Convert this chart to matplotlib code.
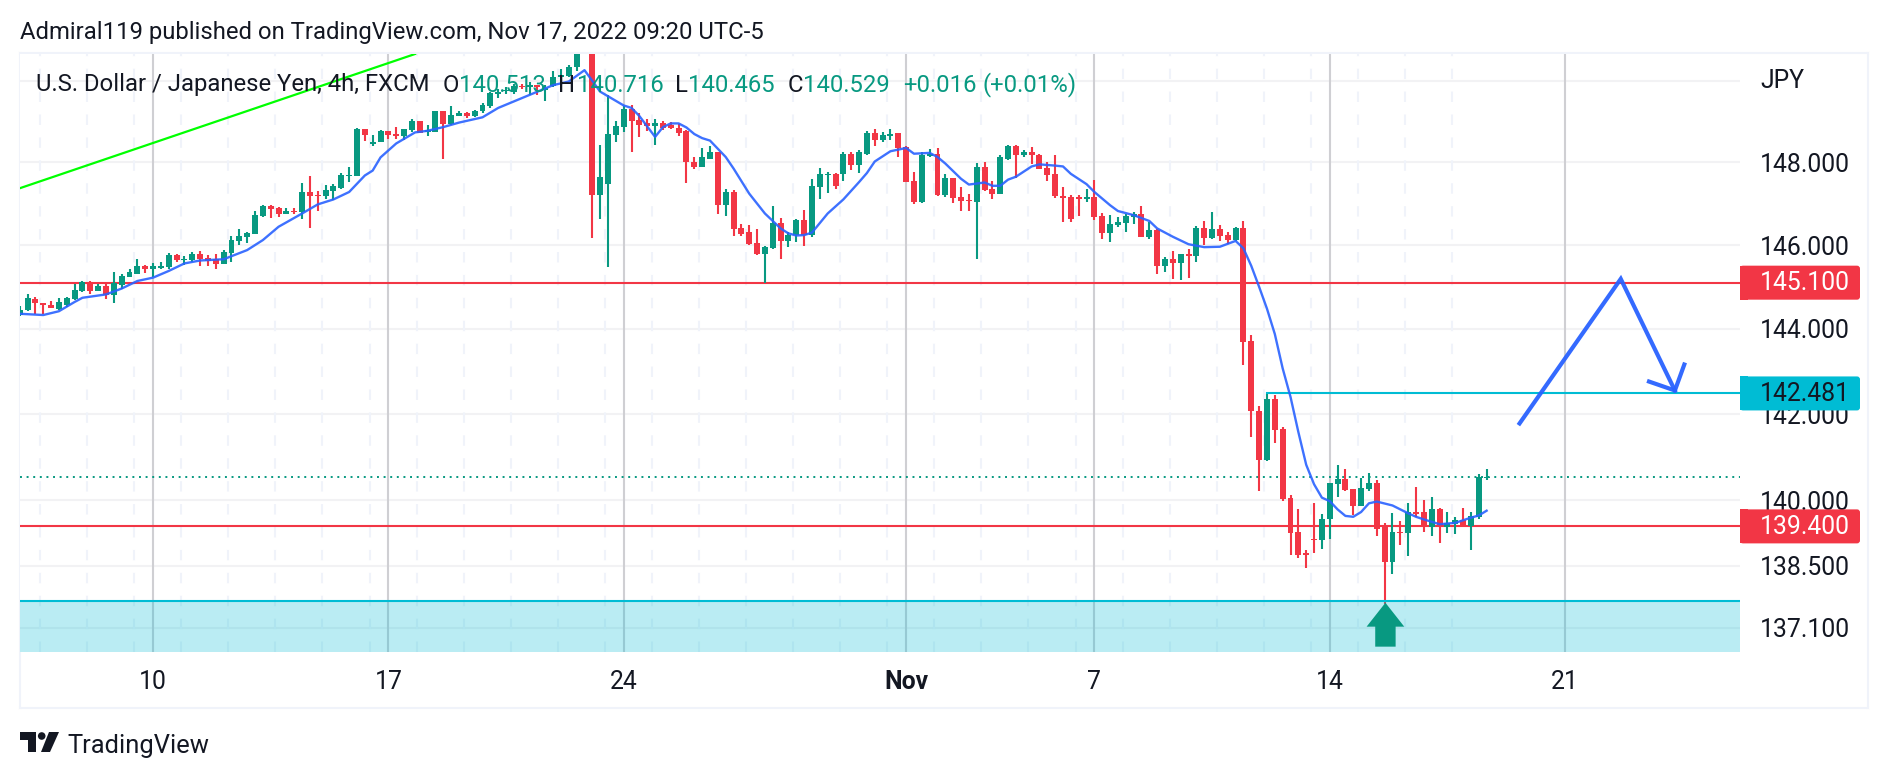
import matplotlib
matplotlib.use('Agg')
import matplotlib.pyplot as plt
import numpy as np
from matplotlib.patches import Rectangle, Polygon, Circle, FancyBboxPatch
from matplotlib.transforms import Affine2D

# USD/JPY 4h candles
opens = [144.33,144.44,144.72,144.62,144.58,144.48,144.58,144.70,144.90,145.11,
         144.90,145.02,144.80,145.04,145.23,145.30,145.50,145.42,145.46,145.47,
         145.76,145.64,145.64,145.78,145.69,145.66,145.54,145.81,146.10,146.19,
         146.26,146.70,146.94,146.89,146.74,146.82,146.79,147.28,147.21,147.18,
         147.30,147.37,147.66,147.66,148.81,148.45,148.50,148.77,148.69,148.65,
         148.79,149.01,148.74,148.75,149.25,148.93,149.13,149.20,149.12,149.25,
         149.37,149.68,149.74,149.73,149.88,149.85,149.89,149.78,149.87,150.09,
         150.11,150.33,150.90,151.60,147.20,147.47,148.67,148.86,149.30,149.03,
         148.95,148.88,148.96,148.90,148.84,148.77,148.02,147.88,148.09,148.25,
         146.96,147.28,146.41,146.31,146.05,145.79,145.93,146.53,146.10,146.24,
         146.60,146.24,147.40,147.70,147.71,147.71,148.21,147.93,148.21,148.72,
         148.55,148.65,148.72,148.38,147.54,147.04,148.16,148.21,147.20,147.61,
         147.16,147.08,147.04,147.88,147.35,147.23,148.09,148.41,148.19,148.24,
         148.19,147.85,147.71,147.18,147.15,147.15,147.10,147.15,146.70,146.29,
         146.48,146.53,146.68,146.74,146.19,146.36,145.49,145.66,145.57,145.78,
         145.73,146.41,146.17,146.38,146.24,146.12,146.41,143.72,142.08,140.92,
         142.35,141.65,140.05,139.26,138.78,139.11,139.08,139.56,140.37,140.48,
         140.25,139.86,140.25,140.39,139.40,138.59,139.28,139.24,139.72,139.72,
         139.38,139.79,139.38,139.45,139.54,139.42,139.61,140.513]
highs = [144.54,144.82,144.76,144.62,144.67,144.73,144.77,145.06,145.14,145.14,
         145.06,145.06,145.35,145.30,145.42,145.66,145.52,145.57,145.59,145.81,
         145.78,145.74,145.83,145.86,145.76,145.78,145.88,146.22,146.38,146.31,
         146.82,146.96,146.96,146.91,146.89,146.89,147.49,147.66,147.30,147.44,
         147.47,147.73,147.88,148.83,148.82,148.67,148.79,148.77,148.86,148.82,
         149.05,149.01,148.91,149.25,149.25,149.37,149.25,149.22,149.27,149.44,
         149.73,149.80,149.85,149.92,149.92,149.97,149.90,149.89,150.23,150.30,
         150.40,150.95,151.80,151.90,148.43,149.65,149.01,149.37,149.41,149.20,
         149.07,149.07,149.02,148.98,148.94,148.79,148.12,148.36,148.41,148.26,
         147.35,147.32,146.51,146.48,146.39,145.98,146.94,146.65,146.31,146.63,
         146.84,147.59,147.85,147.76,147.73,148.26,148.24,148.29,148.77,148.81,
         148.74,148.82,148.72,148.41,147.76,148.24,148.33,148.36,147.71,147.61,
         147.40,147.23,147.98,148.00,147.54,148.19,148.43,148.43,148.29,148.38,
         148.21,148.02,148.19,147.39,147.20,147.20,147.35,147.56,146.77,146.72,
         146.67,146.74,146.79,146.94,146.55,146.38,145.71,145.85,145.78,145.90,
         146.46,146.58,146.79,146.48,146.31,146.43,146.58,143.86,142.18,142.46,
         142.44,141.69,140.12,139.79,138.85,139.93,139.68,140.39,140.81,140.72,
         140.25,140.51,140.62,140.46,139.47,139.70,139.52,139.93,140.30,140.00,
         140.07,139.82,139.72,139.61,139.82,139.72,140.60,140.716]
lows = [144.31,144.42,144.36,144.36,144.49,144.46,144.53,144.68,144.87,144.82,
        144.90,144.70,144.61,144.94,145.23,145.30,145.33,145.23,145.42,145.42,
        145.59,145.52,145.59,145.50,145.50,145.42,145.54,145.59,146.00,146.05,
        146.26,146.67,146.65,146.67,146.74,146.74,146.62,146.41,146.82,147.11,
        147.08,147.35,147.52,147.66,148.53,148.41,148.50,148.57,148.57,148.55,
        148.74,148.72,148.65,148.75,148.09,148.91,149.13,149.08,149.10,149.20,
        149.32,149.58,149.66,149.68,149.80,149.65,149.65,149.51,149.84,149.97,
        150.09,150.23,150.80,146.17,146.63,145.48,148.50,148.74,148.24,148.62,
        148.77,148.43,148.79,148.81,148.65,147.49,147.83,147.88,148.07,146.75,
        146.70,146.22,146.22,146.00,145.76,145.09,145.91,145.66,145.95,146.07,
        145.98,146.19,147.11,147.25,147.35,147.54,147.81,147.73,148.19,148.41,
        148.50,148.55,148.12,147.51,146.99,147.01,148.14,147.18,147.16,147.01,
        146.82,146.82,145.67,147.30,147.11,147.23,148.05,147.61,148.14,147.97,
        147.83,147.54,147.13,146.55,146.55,146.70,147.03,146.60,146.14,146.07,
        146.43,146.31,146.51,146.19,146.14,145.30,145.35,145.18,145.16,145.21,
        145.59,146.00,146.14,146.10,146.02,146.10,143.15,141.47,140.21,140.90,
        141.33,139.98,138.75,138.68,138.45,138.80,138.89,139.10,140.07,140.21,
        139.65,139.86,140.21,139.17,137.64,138.32,138.98,138.73,139.61,139.26,
        139.19,139.03,139.24,139.22,139.38,138.87,139.58,140.465]
closes = [144.46,144.73,144.61,144.57,144.49,144.63,144.73,144.92,145.11,144.90,
          145.02,144.80,145.09,145.26,145.35,145.50,145.42,145.50,145.50,145.76,
          145.64,145.66,145.78,145.66,145.62,145.54,145.83,146.12,146.22,146.29,
          146.72,146.94,146.86,146.74,146.82,146.80,147.27,147.18,147.18,147.32,
          147.42,147.68,147.68,148.81,148.67,148.50,148.77,148.67,148.65,148.81,
          149.01,148.72,148.79,149.25,148.93,149.15,149.20,149.13,149.26,149.39,
          149.70,149.73,149.78,149.87,149.85,149.89,149.85,149.82,150.09,150.13,
          150.33,150.80,151.60,147.20,147.64,148.69,148.89,149.30,149.01,148.91,
          148.89,148.96,148.84,148.85,148.72,148.00,147.88,148.12,148.24,146.96,
          147.28,146.39,146.27,146.03,145.79,145.95,146.53,146.10,146.24,146.60,
          146.24,147.42,147.71,147.72,147.42,148.21,147.93,148.24,148.72,148.55,
          148.67,148.70,148.36,147.52,147.04,148.17,148.21,147.20,147.61,147.13,
          147.06,147.05,147.88,147.32,147.23,148.12,148.41,148.19,148.24,148.19,
          147.83,147.68,147.18,147.13,146.62,147.10,147.15,146.67,146.29,146.50,
          146.55,146.70,146.74,146.19,146.36,145.49,145.66,145.57,145.78,145.73,
          146.41,146.17,146.38,146.22,146.12,146.41,143.70,142.07,140.92,142.35,
          141.63,140.02,139.24,138.75,138.74,139.08,139.58,140.39,140.48,140.23,
          139.86,140.28,140.39,139.35,138.59,139.28,139.25,139.72,139.69,139.38,
          139.79,139.38,139.47,139.54,139.38,139.63,140.53,140.529]

# moving average, read at the bars where the curve bends
ma_bars = [0,3,5,7,8,11,13,15,17,19,21,23,26,29,31,33,36,38,40,42,44,45,46,48,50.4,52,54,56,59,61,63,65,68,70,72,
           74,77,78,79,81,82,83,84,85,86,87,88,90,91,93,95,97,98,99,100,101,103,105,107,108,109,111,113,114,116,
           117,118,120,121,123,124,125,126,127,129,130,132,133,134,136,137,139,140,142,144,145,147,149,151,153,155,
           156,157,158,159,160,161,162,163,164,165,166,167,168,169,170,171,172,173,175,177,178,179,181,183,185,186,187]
ma_vals = [144.36,144.33,144.42,144.64,144.74,144.82,144.96,145.14,145.22,145.38,145.56,145.63,145.66,145.88,146.12,
           146.44,146.76,146.98,147.10,147.28,147.68,147.80,148.12,148.46,148.73,148.77,148.86,148.97,149.10,149.33,
           149.49,149.65,149.89,149.98,150.26,149.73,149.39,149.33,149.13,148.62,148.86,148.95,148.95,148.85,148.69,
           148.59,148.53,148.13,147.85,147.24,146.76,146.40,146.28,146.23,146.24,146.30,146.76,147.10,147.52,147.74,
           148.02,148.27,148.35,148.21,148.23,148.13,147.97,147.60,147.46,147.51,147.43,147.43,147.58,147.65,147.90,
           147.95,147.92,147.90,147.72,147.47,147.28,146.96,146.82,146.72,146.58,146.40,146.20,146.02,145.95,145.96,
           146.10,145.92,145.50,145.00,144.48,143.88,143.07,142.40,141.58,140.82,140.37,140.06,139.98,139.79,139.64,
           139.62,139.73,139.93,139.97,139.88,139.70,139.62,139.56,139.45,139.48,139.60,139.65,139.76]

trend_bars = [0, 50.4]
trend_vals = [147.37, 150.66]
path_bars = [191.2, 204.1, 211.0]
path_vals = [141.78, 145.19, 142.55]
head_bars = [207.7, 211.0, 212.2]
head_vals = [142.76, 142.55, 143.16]
up_bars = [174.1, 176.5, 175.4, 175.4, 172.8, 172.8, 171.7]
up_vals = [137.66, 137.12, 137.12, 136.67, 136.67, 137.12, 137.12]

week_ticks = [17, 47, 77, 113, 137, 167, 197]
week_labels = ['10', '17', '24', 'Nov', '7', '14', '21']
price_ticks = [137.1, 138.5, 140, 142, 144, 146, 148, 150]
price_labels = ['137.100', '138.500', '140.000', '142.000', '144.000', '146.000', '148.000', '']
red_levels = [145.1, 139.4]
cyan_level = 142.481
last_close = 140.529
zone_top = 137.7

GREEN = '#089981'
RED = '#f23645'
CYAN = '#00bcd4'
BLUE = '#2962ff'
INK = '#131722'
FRAME = '#f0f3fa'
W, H = 1888, 778

plt.rcParams['font.family'] = ['Roboto', 'DejaVu Sans']
fig = plt.figure(figsize=(W / 100, H / 100), dpi=100)
ax = fig.add_axes([20 / W, 1 - 652 / H, 1720 / W, 598 / H])
px = Affine2D().scale(1 / W, -1 / H).translate(0, 1) + fig.transFigure

ax.set_yscale('log')
ax.minorticks_off()
for s in ax.spines.values():
    s.set_visible(False)

# grid
for p in price_ticks:
    ax.axhline(p, color='#f2f2f4', lw=1.5, zorder=1)
for d in np.arange(2.6, 183, 6):
    ax.axvline(d, color=FRAME, lw=1.5, ls=(0, (5, 6)), zorder=1)
for w in week_ticks:
    ax.axvline(w, color='#cfcfd3', lw=1.5, zorder=1)

# levels
ax.axhspan(136, zone_top, color=CYAN, alpha=0.27, lw=0, zorder=4)
ax.axhline(zone_top, color=CYAN, lw=1.5, zorder=4)
for lv in red_levels:
    ax.axhline(lv, color=RED, lw=1.5, zorder=2)
ax.plot([159, 230], [cyan_level, cyan_level], color=CYAN, lw=1.5, zorder=2)
ax.axhline(last_close, color=GREEN, lw=1.4, ls=(0, (1, 2.4)), zorder=2)
ax.plot(trend_bars, trend_vals, color='#00ff00', lw=1.6, zorder=2)

# candles
bars = np.arange(len(opens))
o, h, l, c = map(np.array, (opens, highs, lows, closes))
cols = np.where(c >= o, GREEN, RED)
ax.vlines(bars, l, h, colors=cols, lw=1.5, zorder=3)
ax.bar(bars, np.abs(c - o), bottom=np.minimum(o, c), width=0.76, color=cols, lw=0, zorder=3)

ax.plot(ma_bars, ma_vals, color=BLUE, lw=1.7, alpha=0.9, zorder=5)
ax.plot(path_bars, path_vals, color=BLUE, lw=3, alpha=0.95, zorder=5, solid_joinstyle='miter')
ax.plot(head_bars, head_vals, color=BLUE, lw=3, alpha=0.95, zorder=5, solid_joinstyle='miter')
ax.fill(up_bars, up_vals, color=GREEN, lw=0, zorder=6)

ax.set_xlim(0.04, 219.3)
ax.set_ylim(136.55, 150.66)
ax.set_xticks(week_ticks, week_labels)
ax.set_yticks(price_ticks, price_labels)
ax.minorticks_off()
ax.yaxis.tick_right()
ax.tick_params(axis='both', length=0, labelsize=17.8, labelcolor=INK)
ax.tick_params(axis='x', pad=13)
ax.tick_params(axis='y', pad=14.5)
ax.get_xticklabels()[3].set_fontweight('bold')

# frame round the pane and both scales
for xs, ys in [((20, 20), (53, 708)), ((20, 1868), (53, 53)), ((20, 1868), (708, 708)), ((1868, 1868), (53, 708))]:
    fig.add_artist(plt.Line2D(xs, ys, color=FRAME, lw=1.5, transform=px, zorder=-1))

# price tags on the scale
tags = [(145.1, '145.100', RED, 'white'), (cyan_level, '142.481', CYAN, INK), (139.4, '139.400', RED, 'white')]
fig.canvas.draw()
for price, txt, bg, fg in tags:
    yp = H - ax.transData.transform((0, price))[1]
    fig.add_artist(FancyBboxPatch((1743, yp - 14), 114, 28, boxstyle='round,pad=3,rounding_size=3',
                                  fc=bg, ec='none', transform=px, zorder=7))
    fig.add_artist(Rectangle((1740, yp - 17), 8, 34, fc=bg, ec='none', transform=px, zorder=7))
    fig.text(1760, yp + 0.5, txt, color=fg, fontsize=17.8, va='center', ha='left', transform=px, zorder=8)

# header
fig.text(20, 33, 'Admiral119 published on TradingView.com, Nov 17, 2022 09:20 UTC-5', color=INK,
         fontsize=17.2, va='center', ha='left', transform=px)
legend = [(36, 'U.S. Dollar / Japanese Yen, 4h, FXCM', INK), (443, 'O', INK), (459, '140.513', GREEN),
          (558, 'H', INK), (577, '140.716', GREEN), (675, 'L', INK), (688, '140.465', GREEN),
          (788, 'C', INK), (803, '140.529', GREEN), (903, '+0.016', GREEN), (983, '(+0.01%)', GREEN)]
for xp, txt, col in legend:
    fig.text(xp, 85, txt, color=col, fontsize=17.2, va='center', ha='left', transform=px, zorder=9)
fig.text(1760, 81, 'JPY', color=INK, fontsize=17.8, va='center', ha='left', transform=px)

# logo
fig.add_artist(Polygon([(20, 732), (36, 732), (36, 752), (28, 752), (28, 740), (20, 740)], fc=INK, ec='none', transform=px))
fig.add_artist(Circle((41.7, 736), 3.8, fc=INK, ec='none', transform=px))
fig.add_artist(Polygon([(49, 732), (59, 732), (50, 752), (41, 752)], fc=INK, ec='none', transform=px))
fig.text(67, 746, 'TradingView', color=INK, fontsize=18.4, va='center', ha='left', transform=px)

fig.savefig('out.png', dpi=100)
